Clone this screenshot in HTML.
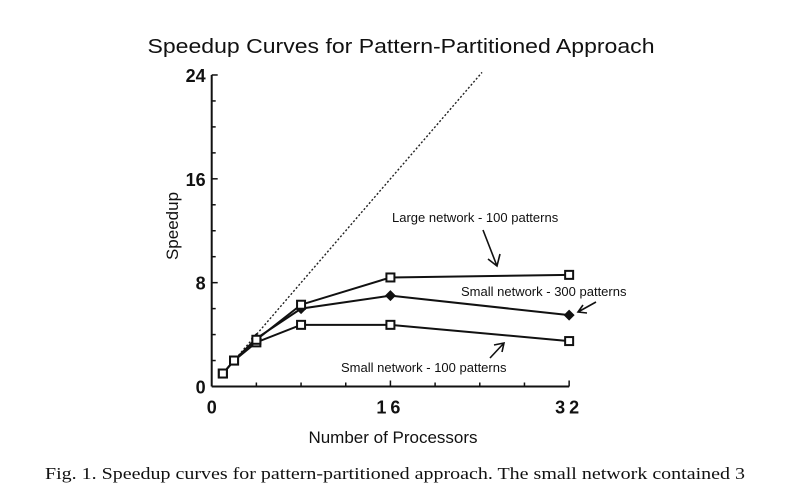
<!DOCTYPE html>
<html><head><meta charset="utf-8"><style>
body{margin:0;background:#fff;width:785px;height:497px;overflow:hidden}
svg{display:block}
text{font-family:"Liberation Sans",sans-serif;fill:#111}
</style></head><body>
<svg id="chart" width="785" height="497" viewBox="0 0 785 497">
<text x="401" y="53" font-size="20" text-anchor="middle" textLength="507" lengthAdjust="spacingAndGlyphs">Speedup Curves for Pattern-Partitioned Approach</text>
<g id="axes"></g>
<g id="marks"></g>
<text x="393" y="443" font-size="17" text-anchor="middle">Number of Processors</text>
<text transform="translate(178,226) rotate(-90)" font-size="17" text-anchor="middle">Speedup</text>
<text x="392" y="222" font-size="13">Large network - 100 patterns</text>
<text x="461" y="296" font-size="13">Small network - 300 patterns</text>
<text x="341" y="372" font-size="13">Small network - 100 patterns</text>
<g stroke="#111" stroke-width="1.6" fill="none">
<path d="M483 230 L497 266 M488 259 L497 266 L500 254"/>
<path d="M596 302 L578 312 M583 305 L578 312 L587 313"/>
<path d="M490 358 L504 343 M494 345 L504 343 L502 352"/>
</g>
<text x="45" y="479" font-size="17" textLength="700" lengthAdjust="spacingAndGlyphs" style="font-family:'Liberation Serif',serif">Fig. 1. Speedup curves for pattern-partitioned approach.  The small network contained 3</text>
</svg>
<script>
const procs=[1,2,4,8,16,32];
const largeNet100=[1,2,3.6,6.3,8.4,8.6];
const smallNet300=[1,2,3.7,6.0,7.0,5.5];
const smallNet100=[1,2,3.4,4.75,4.75,3.5];
const xTicks=[0,16,32];
const yTicks=[0,8,16,24];
const ideal=[1,24.2];
const NS='http://www.w3.org/2000/svg';
const x0=211.7,xs=11.17,y0=386.5,ys=12.98;
const X=v=>x0+v*xs, Y=v=>y0-v*ys;
function mk(t,a,p){const e=document.createElementNS(NS,t);for(const k in a)e.setAttribute(k,a[k]);p.appendChild(e);return e;}
const ax=document.getElementById('axes'),mg=document.getElementById('marks');
const xa=mk('line',{x1:X(0),y1:Y(0),x2:X(32),y2:Y(0),stroke:'#111','stroke-width':2},ax);


const ya=mk('line',{x1:X(0),y1:Y(0),x2:X(0),y2:Y(24),stroke:'#111','stroke-width':2},ax);


for(let v=2;v<=24;v+=2){mk('line',{x1:X(0),y1:Y(v),x2:X(0)+(v%8?4:6),y2:Y(v),stroke:'#111','stroke-width':1.5},ax);}
for(let v=4;v<=32;v+=4){mk('line',{x1:X(v),y1:Y(0),x2:X(v),y2:Y(0)-(v%16?4:6),stroke:'#111','stroke-width':1.5},ax);}
yTicks.forEach(v=>{const t=mk('text',{x:X(0)-6,y:Y(v)+7,'font-size':18,'font-weight':'bold','text-anchor':'end'},ax);t.textContent=v;

});
xTicks.forEach(v=>{const t=mk('text',{x:X(v),y:Y(0)+27,'font-size':18,'font-weight':'bold','text-anchor':'middle','letter-spacing':v>9?4:0},ax);t.textContent=v;

});
const il=mk('line',{x1:X(ideal[0]),y1:Y(ideal[0]),x2:X(ideal[1]),y2:Y(ideal[1]),stroke:'#222','stroke-width':1.4,'stroke-dasharray':'2,2'},mg);


function series(vals,name,marker){
 const p=mk('polyline',{points:vals.map((v,i)=>X(procs[i])+','+Y(v)).join(' '),fill:'none',stroke:'#111','stroke-width':2},mg);
 
 
 vals.forEach((v,i)=>{let m;
  if(marker==='diamond'&&i>1){m=mk('path',{d:`M${X(procs[i])} ${Y(v)-5.5}l5.5 5.5l-5.5 5.5l-5.5 -5.5z`,fill:'#111'},mg);}
  else{m=mk('rect',{x:X(procs[i])-4,y:Y(v)-4,width:8,height:8,fill:'#fff',stroke:'#111','stroke-width':2},mg);}
  
  });
}
series(smallNet100,'small-network-100','square');
series(smallNet300,'small-network-300','diamond');
series(largeNet100,'large-network-100','square');
</script>
</body></html>
